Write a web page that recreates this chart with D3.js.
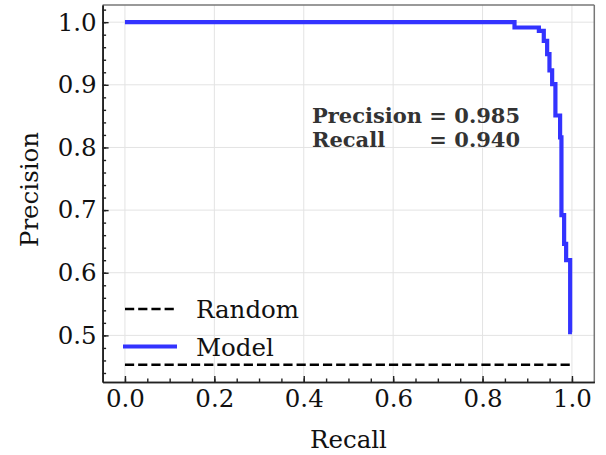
<!DOCTYPE html>
<html><head><meta charset="utf-8">
<script src="https://cdn.jsdelivr.net/npm/d3@7"></script>
<style>
html,body{margin:0;padding:0;background:#fff;}
svg{display:block;}
text{font-family:"DejaVu Serif",serif;}
</style></head>
<body>
<svg id="c" width="606" height="455"></svg>
<script>
// ---- data ----
const modelRecall    = [0.0, 0.8715, 0.926, 0.937, 0.9445, 0.9497, 0.9557, 0.963, 0.9735, 0.9765, 0.9825, 0.987, 0.996, 1.0];
const modelPrecision = [1.0, 0.9915, 0.986, 0.970, 0.949, 0.923, 0.901, 0.851, 0.816, 0.692, 0.646, 0.620, 0.505, 0.505];
const randomRecall    = [0.0, 1.0];
const randomPrecision = [0.453, 0.453];
const xTicks = [0.0, 0.2, 0.4, 0.6, 0.8, 1.0];
const yTicks = [0.5, 0.6, 0.7, 0.8, 0.9, 1.0];
const seriesNames = ["Random", "Model"];
const annotLabels = ["Precision", "Recall"];
const annotValues = ["0.985", "0.940"];

// ---- layout ----
const L = 102.6, R = 594.3, T = 5, B = 382;
const FS = 24.5;
const svg = d3.select("#c");
const x = d3.scaleLinear().domain([-0.05, 1.05]).range([L, R]);
const y = d3.scaleLinear().domain([0.4256, 1.0274]).range([B, T]);

// grid
const g = svg.append("g");
g.selectAll(".gx").data(xTicks).enter().append("line")
  .attr("x1", d => x(d)).attr("x2", d => x(d)).attr("y1", T).attr("y2", B)
  .attr("stroke", "#e3e3e3").attr("stroke-width", 1);
g.selectAll(".gy").data(yTicks).enter().append("line")
  .attr("y1", d => y(d)).attr("y2", d => y(d)).attr("x1", L).attr("x2", R)
  .attr("stroke", "#e3e3e3").attr("stroke-width", 1);

// series
const line = d3.line().x(d => x(d[0])).y(d => y(d[1]));
svg.append("path")
  .datum(randomRecall.map((r, i) => [r, randomPrecision[i]]))
  .attr("d", line).attr("fill", "none").attr("stroke", "#000")
  .attr("stroke-width", 2.5).attr("stroke-dasharray", "9.2,4");
svg.append("path")
  .datum(modelRecall.map((r, i) => [r, modelPrecision[i]]))
  .attr("d", line.curve(d3.curveStepAfter)).attr("fill", "none").attr("stroke", "#3333ff")
  .attr("stroke-width", 4.2).attr("stroke-linejoin", "miter");

// spines
svg.append("line").attr("x1", L).attr("x2", R).attr("y1", T).attr("y2", T).attr("stroke", "#777").attr("stroke-width", 1.5);
svg.append("line").attr("x1", R).attr("x2", R).attr("y1", T).attr("y2", B).attr("stroke", "#777").attr("stroke-width", 1.5);

// axes
const xAxis = d3.axisBottom(x).tickValues(xTicks).tickFormat(d3.format(".1f")).tickSizeInner(-6).tickSizeOuter(0).tickPadding(8);
const xMinor = d3.axisBottom(x).tickValues(d3.range(0, 1.0001, 0.05)).tickFormat("").tickSizeInner(-3.5).tickSizeOuter(0);
const yAxis = d3.axisLeft(y).tickValues(yTicks).tickFormat(d3.format(".1f")).tickSizeInner(-6).tickSizeOuter(0).tickPadding(6);
const yMinor = d3.axisLeft(y).tickValues(d3.range(0.44, 1.021, 0.02)).tickFormat("").tickSizeInner(-3.5).tickSizeOuter(0);

function style(sel){
  sel.select(".domain").attr("stroke", "#222").attr("stroke-width", 1.6);
  sel.selectAll(".tick line").attr("stroke", "#222").attr("stroke-width", 1.4);
  sel.selectAll(".tick text").attr("fill", "#111").style("font-size", FS + "px").style("font-family", "'DejaVu Serif', serif");
}
svg.append("g").attr("transform", `translate(0,${B})`).call(xMinor).call(style);
svg.append("g").attr("transform", `translate(0,${B})`).call(xAxis).call(style);
svg.append("g").attr("transform", `translate(${L},0)`).call(yMinor).call(style);
svg.append("g").attr("transform", `translate(${L},0)`).call(yAxis).call(style);

// axis labels
svg.append("text").attr("x", (L + R) / 2).attr("y", 448).attr("text-anchor", "middle")
  .style("font-size", FS + "px").attr("fill", "#111").text("Recall");
svg.append("text").attr("transform", `translate(38,${(T + B) / 2 - 4}) rotate(-90)`).attr("text-anchor", "middle")
  .style("font-size", FS + "px").attr("fill", "#111").text("Precision");

// legend
const leg = svg.append("g");
const legY = [309, 346.5];
leg.append("line").attr("x1", 125).attr("x2", 174).attr("y1", legY[0]).attr("y2", legY[0])
  .attr("stroke", "#000").attr("stroke-width", 2.5).attr("stroke-dasharray", "9.2,4");
leg.append("line").attr("x1", 123).attr("x2", 177).attr("y1", legY[1]).attr("y2", legY[1])
  .attr("stroke", "#3333ff").attr("stroke-width", 4.2);
seriesNames.forEach((n, i) => {
  leg.append("text").attr("x", 196).attr("y", legY[i] + 9).style("font-size", FS + "px").attr("fill", "#111").text(n);
});

// annotation
const ann = svg.append("g").style("font-weight", "bold").style("font-size", "21px").attr("fill", "#333");
const first = ann.append("text").attr("x", 312).attr("y", 123).attr("xml:space", "preserve")
  .text(annotLabels[0] + " = " + annotValues[0]);
const endX = 312 + first.node().getComputedTextLength();
ann.append("text").attr("x", 312).attr("y", 123 + 23.5).text(annotLabels[1]);
ann.append("text").attr("x", endX).attr("y", 123 + 23.5).attr("text-anchor", "end").text("= " + annotValues[1]);
</script>
</body></html>
